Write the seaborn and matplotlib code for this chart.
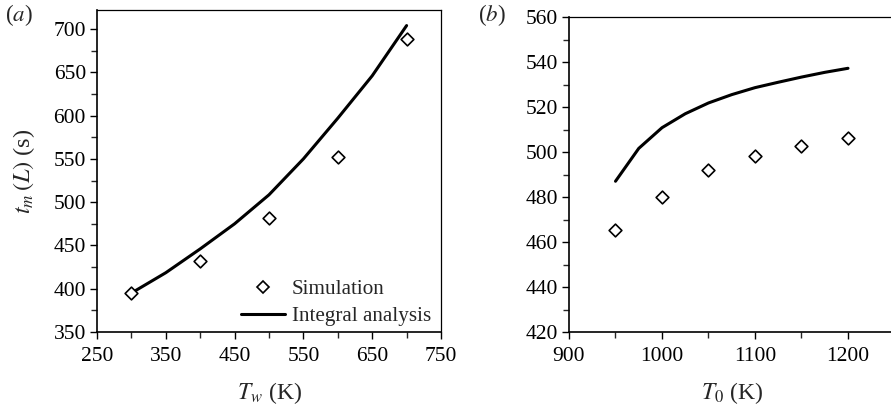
import matplotlib
matplotlib.use("Agg")
import matplotlib.pyplot as plt
import seaborn as sns
import pandas as pd
from matplotlib.ticker import MultipleLocator
from matplotlib.lines import Line2D

# Panel (a) data
tw_sim = [300, 400, 500, 600, 700]
tm_sim_a = [394.6, 432.0, 481.5, 552.6, 688.8]
tw_line = [300, 350, 400, 450, 500, 550, 600, 650, 700]
tm_line_a = [395.0, 418.5, 446.0, 475.0, 508.5, 550.0, 597.0, 646.0, 704.0]

# Panel (b) data
t0_sim = [950, 1000, 1050, 1100, 1150, 1200]
tm_sim_b = [465.5, 480.1, 492.0, 498.4, 502.8, 506.2]
t0_line = [950, 975, 1000, 1025, 1050, 1075, 1100, 1125, 1150, 1175, 1200]
tm_line_b = [487.0, 501.6, 510.8, 517.0, 521.8, 525.5, 528.6, 531.0, 533.3, 535.4, 537.2]

sns.set_theme(style="ticks")
plt.rcParams['font.family'] = ['Liberation Serif', 'DejaVu Serif']
plt.rcParams['mathtext.fontset'] = 'stix'
plt.rcParams['axes.linewidth'] = 1.2

fig = plt.figure(figsize=(8.91, 4.08), dpi=100)
W, H = 891, 408
axa = fig.add_axes([97/W, 1-332/H, (441-97)/W, (332-10)/H])
axb = fig.add_axes([569/W, 1-332/H, (894.5-569)/W, (332-17)/H])

dfa_s = pd.DataFrame({"x": tw_sim, "y": tm_sim_a})
dfa_l = pd.DataFrame({"x": tw_line, "y": tm_line_a})
dfb_s = pd.DataFrame({"x": t0_sim, "y": tm_sim_b})
dfb_l = pd.DataFrame({"x": t0_line, "y": tm_line_b})

for ax, dl, ds in [(axa, dfa_l, dfa_s), (axb, dfb_l, dfb_s)]:
    sns.lineplot(data=dl, x="x", y="y", ax=ax, color="black", lw=2.2, zorder=2)
    sns.scatterplot(data=ds, x="x", y="y", ax=ax, marker="D", s=42,
                    facecolor="white", edgecolor="black", linewidth=1.2, zorder=3)
    for s in ax.spines.values():
        s.set_visible(True)
        s.set_color("black")
    ax.spines["top"].set_linewidth(0.9)
    ax.spines["right"].set_linewidth(0.9)
    ax.tick_params(which="major", direction="out", length=5, width=1.0,
                   labelsize=15.5, colors="black")
    ax.tick_params(axis="x", pad=6)
    ax.tick_params(axis="y", pad=3)
    ax.tick_params(which="minor", direction="out", length=4, width=1.0)
    ax.tick_params(top=False, right=False, which="both")

axa.set_xlim(250, 750)
axa.set_ylim(350, 722)
axa.xaxis.set_major_locator(MultipleLocator(100))
axa.xaxis.set_minor_locator(MultipleLocator(50))
axa.set_xticks([250, 350, 450, 550, 650, 750])
axa.yaxis.set_major_locator(MultipleLocator(50))
axa.yaxis.set_minor_locator(MultipleLocator(25))
axa.set_xlabel("$T_w$ (K)", fontsize=17, labelpad=10)
axa.set_ylabel(r"$t_m\,(L)$ (s)", fontsize=17.5, labelpad=12)

axb.set_xlim(900, 1250)
axb.set_ylim(420, 560)
axb.xaxis.set_major_locator(MultipleLocator(100))
axb.xaxis.set_minor_locator(MultipleLocator(50))
axb.yaxis.set_major_locator(MultipleLocator(20))
axb.yaxis.set_minor_locator(MultipleLocator(10))
axb.set_xlabel("$T_0$ (K)", fontsize=17, labelpad=10)
axb.set_ylabel("")

fig.text(5/W, 1-15/H, "($a$)", fontsize=16.5, va="center", ha="left")
fig.text(478/W, 1-15/H, "($b$)", fontsize=16.5, va="center", ha="left")

handles = [Line2D([], [], ls="none", marker="D", markersize=6.5, mfc="white",
                  mec="black", mew=1.2),
           Line2D([], [], color="black", lw=2.2)]
axa.legend(handles, ["Simulation", "Integral analysis"], loc="lower right",
           frameon=False, fontsize=15.2, handlelength=2.1, handletextpad=0.3,
           borderaxespad=0.0, labelspacing=0.35, bbox_to_anchor=(0.995, -0.009))

fig.savefig("out.png", dpi=100)
